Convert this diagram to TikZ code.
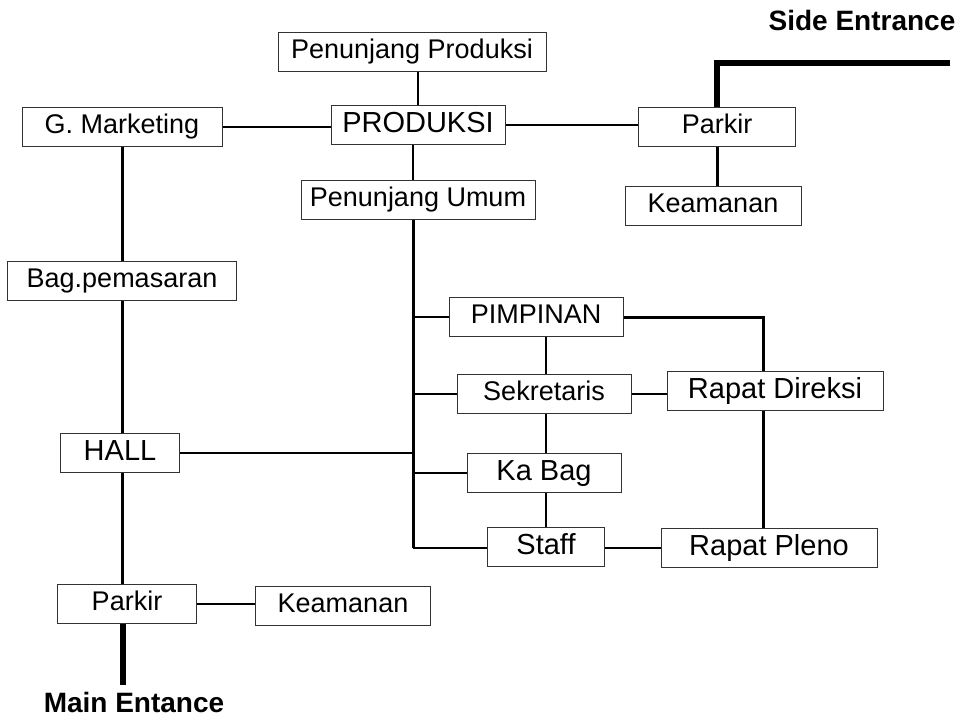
\documentclass[tikz,border=0pt]{standalone}
\usepackage{fontspec}
\setmainfont{Liberation Sans}
\newcommand{\boxfont}{\fontsize{27}{30}\selectfont}
\newcommand{\bigboxfont}{\fontsize{29}{32}\selectfont}
\newcommand{\gatefont}{\fontsize{28}{32}\selectfont\bfseries}
\begin{document}
\begin{tikzpicture}[x=1pt, y=-1pt]
			\useasboundingbox (0,0) rectangle (965,720);
			\tikzset{
				room/.style={draw=black!80, line width=1pt, rectangle, inner sep=0pt, minimum height=39pt, text height=19pt, text depth=6pt, font=\boxfont},
				bigroom/.style={room, font=\bigboxfont, text height=20pt},
				link/.style={line width=2.3pt},
				spine/.style={line width=3pt},
				entrance/.style={line width=5.5pt},
				gate/.style={font=\gatefont, anchor=base, inner sep=0pt}
			}
			\node[room, minimum width=268pt] (penprod) at (412, 51.5) {Penunjang Produksi};
			\node[bigroom, minimum width=174pt] (prod) at (418, 125) {PRODUKSI};
			\node[room, minimum width=234pt] (penumum) at (418, 200) {Penunjang Umum};
			\node[room, minimum width=200pt] (gmark) at (122, 127) {G. Marketing};
			\node[room, minimum width=157pt] (parkirside) at (717, 127) {Parkir};
			\node[room, minimum width=176pt] (keamside) at (713, 206) {Keamanan};
			\node[room, minimum width=229pt] (pemasaran) at (122, 281) {Bag.pemasaran};
			\node[bigroom, minimum width=119pt] (hall) at (120, 453) {HALL};
			\node[room, minimum width=174pt] (pimpinan) at (536, 317) {PIMPINAN};
			\node[room, minimum width=174pt] (sekretaris) at (544, 394) {Sekretaris};
			\node[bigroom, minimum width=154pt] (kabag) at (544, 473) {Ka Bag};
			\node[bigroom, minimum width=117pt] (staff) at (546, 547) {Staff};
			\node[bigroom, minimum width=216pt] (rapdir) at (775, 391) {Rapat Direksi};
			\node[bigroom, minimum width=216pt] (rappleno) at (769, 548) {Rapat Pleno};
			\node[room, minimum width=139pt] (parkirmain) at (127, 604) {Parkir};
			\node[room, minimum width=175pt] (keammain) at (343, 606) {Keamanan};
			\node[gate] (sidegate) at (862, 30) {Side Entrance};
			\node[gate] (maingate) at (134, 712) {Main Entance};
			\coordinate (trunkend) at (413, 548);
			\coordinate (sideend) at (950, 63);
			\coordinate (mainend) at (123, 685);
			\draw[link] (gmark.east) -- (gmark.east -| prod.west);
			\draw[link] (prod.east) -- (prod.east -| parkirside.west);
			\draw[link] (penprod.south -| prod.north) -- (prod.north);
			\draw[link] (prod.south -| trunkend) -- (penumum.north -| trunkend);
			\draw[spine] (penumum.south -| trunkend) -- (trunkend);
			\draw[link] (pimpinan.west -| trunkend) -- (pimpinan.west);
			\draw[link] (sekretaris.west -| trunkend) -- (sekretaris.west);
			\draw[link] (kabag.west -| trunkend) -- (kabag.west);
			\draw[link] (trunkend) -- (trunkend -| staff.west);
			\draw[link] (hall.east) -- (hall.east -| trunkend);
			\draw[link] (pimpinan.south -| staff.north) -- (sekretaris.north -| staff.north);
			\draw[link] (sekretaris.south -| staff.north) -- (kabag.north -| staff.north);
			\draw[link] (kabag.south -| staff.north) -- (staff.north);
			\draw[link] (sekretaris.east) -- (sekretaris.east -| rapdir.west);
			\draw[spine] (pimpinan.east) -| ([xshift=-12pt]rapdir.north);
			\draw[spine] ([xshift=-12pt]rapdir.south) -- ([xshift=-12pt]rapdir.south |- rappleno.north);
			\draw[link] (staff.east |- trunkend) -- (rappleno.west |- trunkend);
			\draw[spine] (parkirside.south) -- (parkirside.south |- keamside.north);
			\draw[entrance] (parkirside.north) |- (sideend);
			\draw[spine] (gmark.south) -- (pemasaran.north -| gmark.south);
			\draw[spine] (pemasaran.south -| gmark.south) -- (hall.north -| gmark.south);
			\draw[spine] (hall.south -| gmark.south) -- (parkirmain.north -| gmark.south);
			\draw[link] (parkirmain.east) -- (parkirmain.east -| keammain.west);
			\draw[entrance] (parkirmain.south -| mainend) -- (mainend);
		\end{tikzpicture}
\end{document}
